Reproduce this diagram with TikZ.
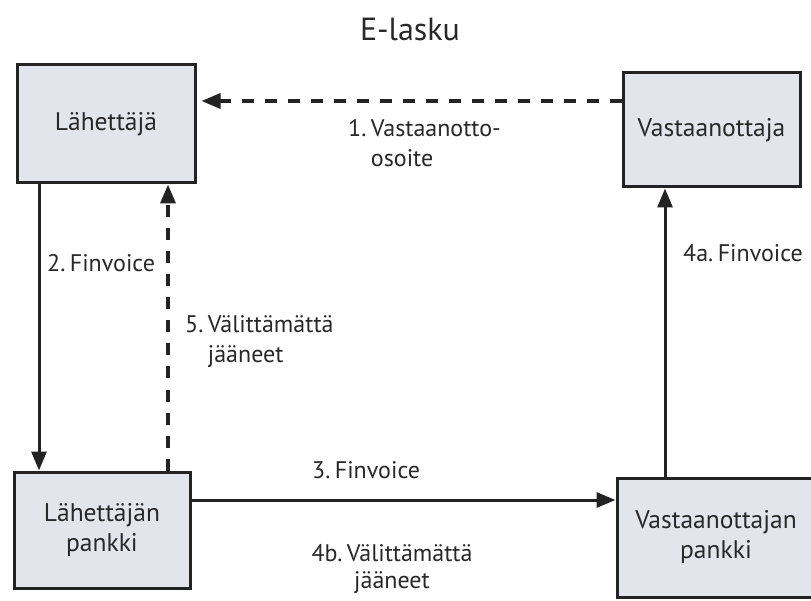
\documentclass[tikz,border=0pt]{standalone}
\usepackage{fontspec}
\setmainfont{PT Sans}
\usetikzlibrary{arrows.meta}
\definecolor{boxfill}{RGB}{226,229,236}
\definecolor{ink}{RGB}{35,35,35}
\definecolor{txt}{RGB}{40,40,40}
\newcommand{\nsp}{\hspace{4.5pt}}
\begin{document}
\begin{tikzpicture}[x=1pt,y=-1pt,
  box/.style={draw=ink, line width=3pt, fill=boxfill, text=txt, inner sep=0pt,
    font=\fontsize{25.5}{30}\selectfont, align=center},
  lbl/.style={text=txt, inner sep=0pt, font=\fontsize{24}{30}\selectfont, align=left},
  flow/.style={draw=ink, line width=3pt, -{Triangle[length=19pt,width=15pt]}},
  back/.style={flow, line width=3.5pt, dash pattern=on 12pt off 11pt}]
\useasboundingbox (0,0) rectangle (811,601);
\clip (0,0) rectangle (811,601);
\fill[white] (0,0) rectangle (811,601);

\node[text=txt, inner sep=0pt, font=\fontsize{32}{38}\selectfont] (T) at (410,29) {E-lasku};

\node[box, minimum width=178pt, minimum height=118pt] (A) at (106,124) {Lähettäjä};
\node[box, minimum width=177pt, minimum height=114pt] (B) at (711.5,130) {Vastaanottaja};
\node[box, minimum width=176pt, minimum height=116pt] (C) at (102,530) {Lähettäjän\\pankki};
\node[box, minimum width=198pt, minimum height=119pt] (D) at (716,537.5) {Vastaanottajan\\pankki};

\draw[back] ([yshift=29pt]B.west) -- ([xshift=5pt,yshift=23pt]A.east);
\draw[flow] ([xshift=-67pt]A.south) -- ([xshift=-63pt]C.north);
\draw[back] ([xshift=66pt]C.north) -- ([xshift=62pt]A.south);
\draw[flow] ([yshift=30pt]C.east) -- ([yshift=37.5pt]D.west);
\draw[flow] ([xshift=-51pt]D.north) -- ([xshift=-46.5pt]B.south);

\node[lbl, anchor=west] (L1) at (348,143) {1.\nsp Vastaanotto-\\\phantom{1.}\nsp osoite};
\node[lbl, anchor=west] (L2) at (47,263) {2.\nsp Finvoice};
\node[lbl, anchor=west] (L5) at (185,342) {5.\nsp Välittämättä\\\phantom{5.}\nsp jääneet};
\node[lbl, anchor=west] (L3) at (312,470) {3.\nsp Finvoice};
\node[lbl, align=center, font=\fontsize{24}{27}\selectfont] (L4b) at (392,569) {4b.\nsp Välittämättä\\jääneet};
\node[lbl, anchor=west] (L4a) at (683,253) {4a.\nsp Finvoice};
\end{tikzpicture}
\end{document}
